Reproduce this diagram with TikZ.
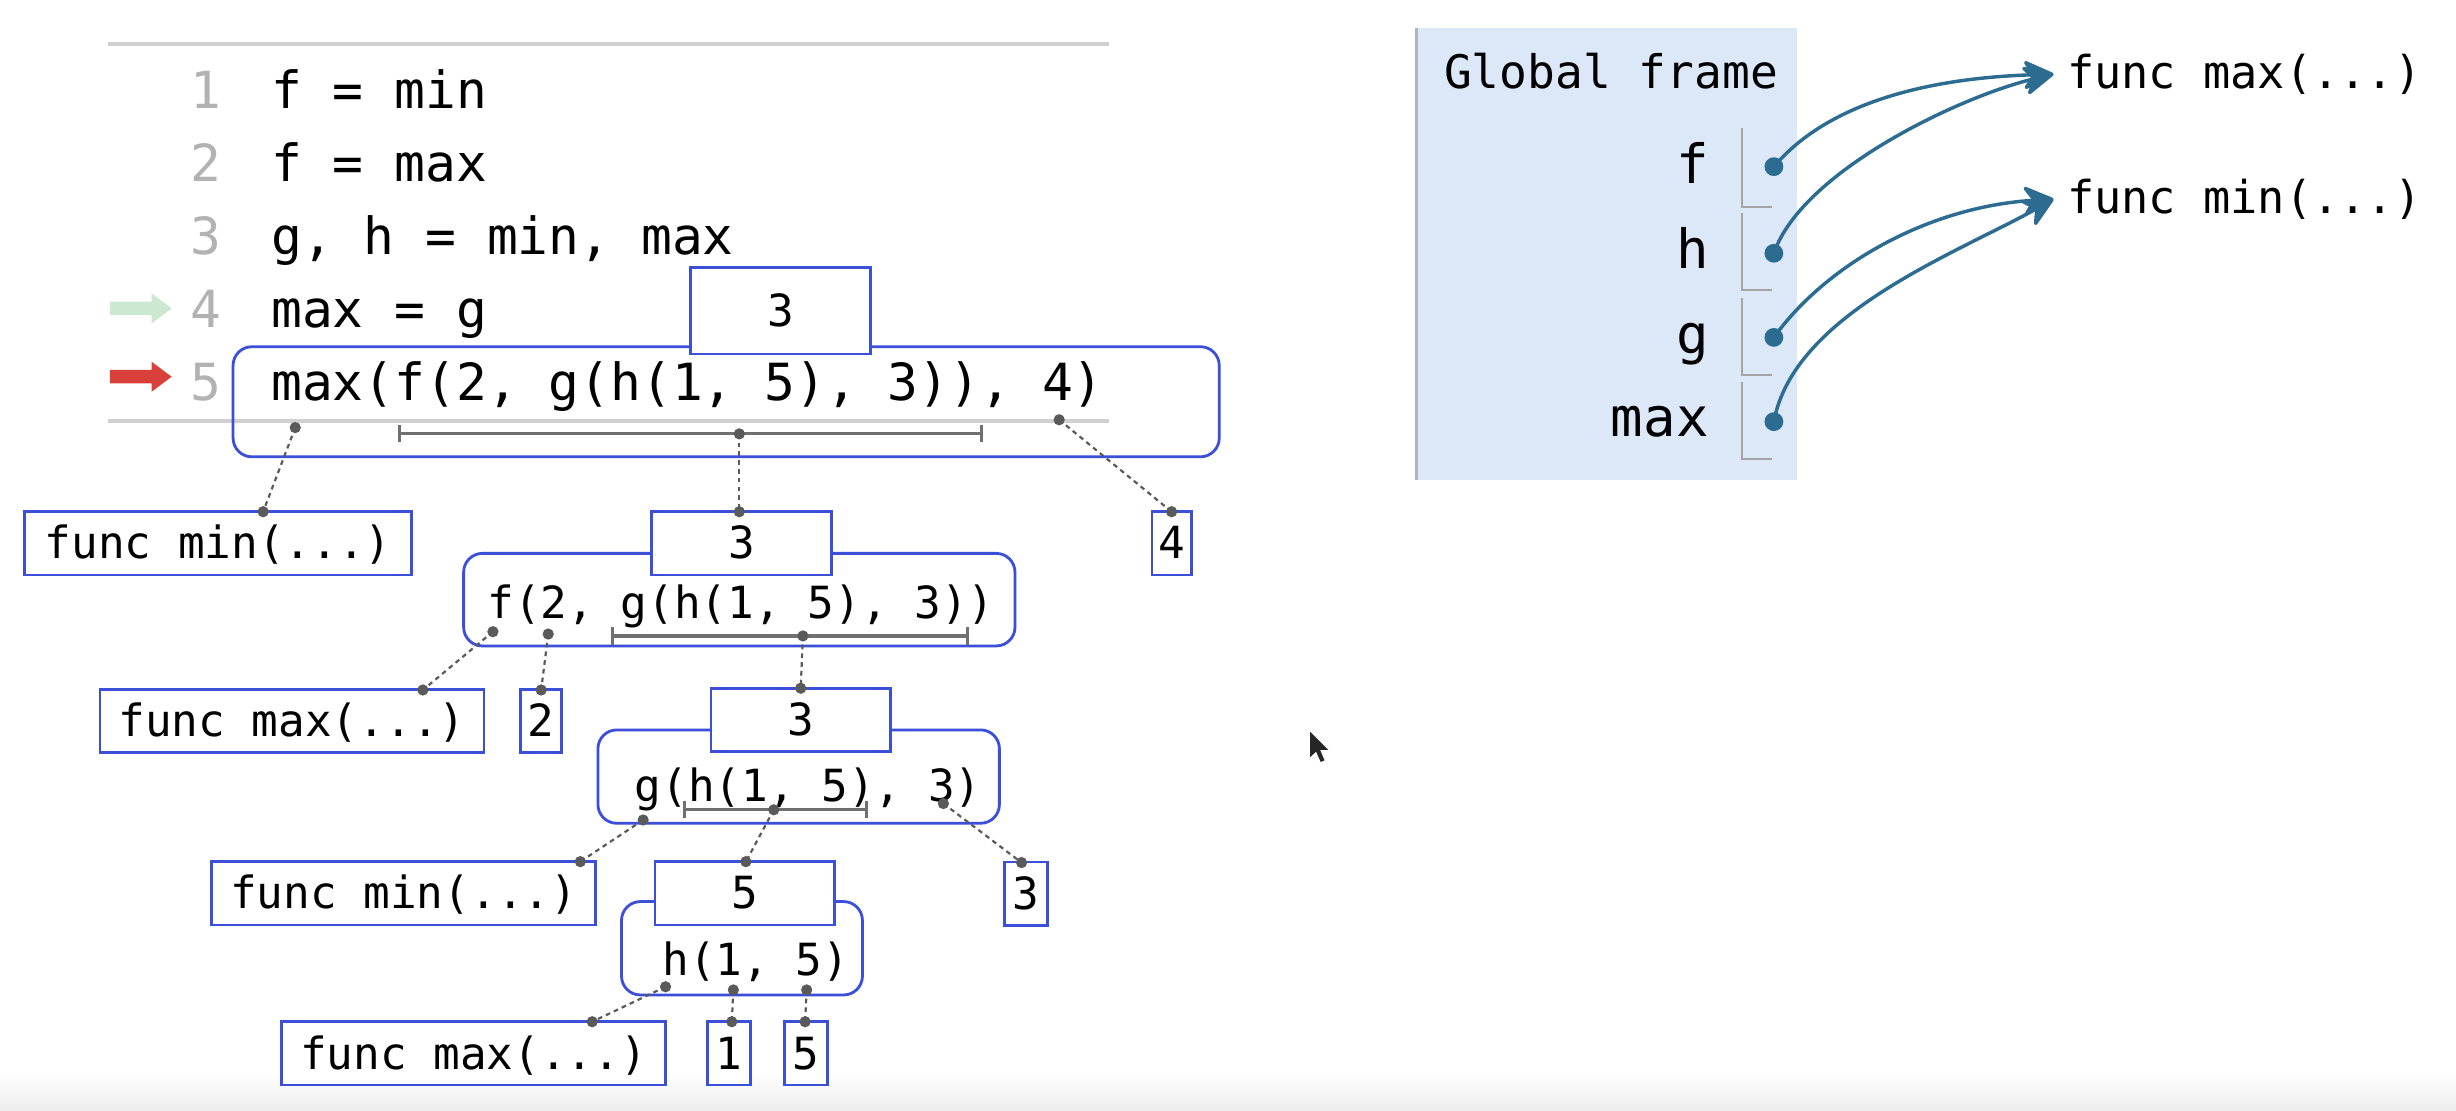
\documentclass[tikz,border=0pt]{standalone}
\usepackage{fontspec}
\usetikzlibrary{arrows.meta}
\newfontfamily\monofam{DejaVu Sans Mono}
\newcommand\codesz{\monofam\fontsize{32.7}{38}\selectfont}
\newcommand\treesz{\monofam\fontsize{28.3}{33}\selectfont}
\newcommand\framesz{\monofam\fontsize{29.5}{35}\selectfont}
\newcommand\varsz{\monofam\fontsize{34.5}{40}\selectfont}
\newcommand\heapsz{\monofam\fontsize{28.9}{34}\selectfont}

\definecolor{boxblue}{HTML}{3B4FD8}
\definecolor{linkgray}{HTML}{5A5A5A}
\definecolor{bargray}{HTML}{707070}
\definecolor{rulegray}{HTML}{D0D0D0}
\definecolor{numgray}{HTML}{B2B2B2}
\definecolor{framefill}{HTML}{DCE7F8}
\definecolor{frameedge}{HTML}{AEB4BC}
\definecolor{cellgray}{HTML}{A4A4A4}
\definecolor{ptrblue}{HTML}{2C6C91}
\definecolor{nextgreen}{HTML}{CDE8D0}
\definecolor{curred}{HTML}{D9403A}

% dashed evaluation link with a dot at each end
\newcommand\evlink[2]{%
  \draw[link] (#1) -- (#2);
  \fill[linkgray] (#1) circle (3.6pt) (#2) circle (3.6pt);}

\begin{document}
\begin{tikzpicture}[x=1pt,y=-1pt,
  rule/.style={draw=rulegray, line width=2pt},
  lnum/.style={anchor=base, inner sep=0pt, font=\codesz, text=numgray},
  code/.style={anchor=base west, inner sep=0pt, font=\codesz},
  callbox/.style={draw=boxblue, line width=1.8pt, rounded corners=12pt, inner sep=0pt},
  valbox/.style={draw=boxblue, line width=1.8pt, fill=white, inner sep=0pt,
    font=\treesz, text height=20pt, text depth=0pt, minimum height=40.4pt},
  expr/.style={anchor=base west, inner sep=0pt, font=\treesz},
  link/.style={draw=linkgray, line width=1.4pt, dash pattern=on 3pt off 2.6pt},
  span/.style={draw=bargray, line width=2pt, arrows={Bar[width=11pt]-Bar[width=11pt]}},
  varlbl/.style={anchor=base east, inner sep=0pt, font=\varsz},
  heaplbl/.style={anchor=base west, inner sep=0pt, font=\heapsz},
  ptrdot/.style={circle, fill=ptrblue, inner sep=0pt, minimum size=12pt},
  ptr/.style={draw=ptrblue, line width=2.2pt,
    -{Stealth[length=22pt,width=21pt,inset=7pt,round]}},
  cell/.style={draw=cellgray, line width=1.3pt}]

\useasboundingbox (0,0) rectangle (1568,709);
\fill[white] (0,0) rectangle (1568,709);
\shade[top color=white, bottom color=black!7] (0,684) rectangle (1568,709);

% ---------- code listing ----------
\draw[rule] (69,28.1) -- (708,28.1);
\draw[rule] (69,268.8) -- (708,268.8);

\node[lnum] (n1) at (131.5,69.2) {1};
\node[lnum] (n2) at (131.5,115.75) {2};
\node[lnum] (n3) at (131.5,162.3) {3};
\node[lnum] (n4) at (131.5,208.85) {4};
\node[lnum] (n5) at (131.5,255.4) {5};

\node[code] (c1) at (173,69.2) {f = min};
\node[code] (c2) at (173,115.75) {f = max};
\node[code] (c3) at (173,162.3) {g, h = min, max};
\node[code] (c4) at (173,208.85) {max = g};
\node[code] (c5) at (173,255.4) {max(f(2, g(h(1, 5), 3)), 4)};

% next-line and current-line markers
\fill[nextgreen] (70.2,192.6) -- (96.8,192.6) -- (96.8,187.3) -- (109.6,196.9)
  -- (96.8,206.5) -- (96.8,201.2) -- (70.2,201.2) -- cycle;
\fill[curred] (70.2,236.2) -- (96.8,236.2) -- (96.8,230.9) -- (109.6,240.5)
  -- (96.8,250.1) -- (96.8,244.8) -- (70.2,244.8) -- cycle;

% ---------- evaluation tree ----------
% level 0
\node[callbox, minimum width=629.6pt, minimum height=70.3pt] (r0) at (463.6,256.5) {};
\node[valbox, minimum width=115pt, minimum height=55pt] (v0) at (498.5,198.5) {3};
\draw[span] (254,277) -- (627.6,277);

% level 1
\node[valbox, minimum width=247pt] (fmin1) at (139.3,346.85) {func min(...)};
\node[valbox, minimum width=25pt] (four) at (748,346.85) {4};
\node[callbox, minimum width=352pt, minimum height=59.1pt] (r1) at (472,382.85) {};
\node[valbox, minimum width=115pt] (v1) at (473.5,346.85) {3};
\node[expr] (t1) at (311,395) {f(2, g(h(1, 5), 3))};
\draw[span] (390,406) -- (618.7,406);

\coordinate (a0) at (188.5,273);   \coordinate (b0) at (168,326.7);
\coordinate (a1) at (472,277);     \coordinate (b1) at (472,326.7);
\coordinate (a2) at (676.2,268);   \coordinate (b2) at (748,326.7);
\evlink{a0}{b0}
\evlink{a1}{b1}
\evlink{a2}{b2}

% level 2
\node[valbox, minimum width=245.2pt] (fmax2) at (186.4,460.2) {func max(...)};
\node[valbox, minimum width=26pt] (two) at (345.5,460.2) {2};
\node[callbox, minimum width=256.3pt, minimum height=59.6pt] (r2) at (509.9,495.8) {};
\node[valbox, minimum width=114.6pt] (v2) at (511.2,459.65) {3};
\node[expr] (t2) at (405,512) {g(h(1, 5), 3)};
\draw[span] (436,517) -- (554.2,517);

\coordinate (a3) at (314.7,403.3); \coordinate (b3) at (270,440.5);
\coordinate (a4) at (350,404.8);   \coordinate (b4) at (345.5,440.5);
\coordinate (a5) at (512.6,406);   \coordinate (b5) at (511.2,439.4);
\evlink{a3}{b3}
\evlink{a4}{b4}
\evlink{a5}{b5}

% level 3
\node[valbox, minimum width=245.2pt] (fmin3) at (257.7,570.3) {func min(...)};
\node[valbox, minimum width=27.7pt] (three3) at (655,570.5) {3};
\node[callbox, minimum width=153.8pt, minimum height=59.6pt] (r3) at (473.7,605.4) {};
\node[valbox, minimum width=114.6pt] (v3) at (475.5,570.3) {5};
\node[expr] (t3) at (422.7,622.5) {h(1, 5)};

\coordinate (a6) at (410.6,523.5); \coordinate (b6) at (370.5,550.1);
\coordinate (a7) at (494,517);     \coordinate (b7) at (476.2,550.1);
\coordinate (a8) at (602.3,513);   \coordinate (b8) at (652.2,550.7);
\evlink{a6}{b6}
\evlink{a7}{b7}
\evlink{a8}{b8}

% level 4
\node[valbox, minimum width=245.2pt] (fmax4) at (302.3,672.5) {func max(...)};
\node[valbox, minimum width=27.7pt] (one) at (465.5,672.5) {1};
\node[valbox, minimum width=27.6pt] (five) at (514.5,672.5) {5};

\coordinate (a9) at (424.9,630);   \coordinate (b9) at (378.1,652.3);
\coordinate (a10) at (468.2,632);  \coordinate (b10) at (467.2,652.3);
\coordinate (a11) at (515,632);    \coordinate (b11) at (514,652.3);
\evlink{a9}{b9}
\evlink{a10}{b10}
\evlink{a11}{b11}

% ---------- global frame ----------
\node[fill=framefill, inner sep=0pt, minimum width=242.9pt, minimum height=288.3pt]
  (gframe) at (1026.05,162.25) {};
\draw[frameedge, line width=2pt] (gframe.north west) -- (gframe.south west);
\node[anchor=base west, inner sep=0pt, font=\framesz] (gtitle) at (921.8,56.4) {Global frame};

\node[varlbl] (vf) at (1091,117) {f};
\node[varlbl] (vh) at (1091,171.3) {h};
\node[varlbl] (vg) at (1091,225.6) {g};
\node[varlbl] (vmax) at (1091,278.8) {max};

\draw[cell] (1112.2,82) -- (1112.2,132) -- (1131.2,132);
\draw[cell] (1112.2,136) -- (1112.2,185) -- (1131.2,185);
\draw[cell] (1112.2,190.5) -- (1112.2,239.4) -- (1131.2,239.4);
\draw[cell] (1112.2,243.7) -- (1112.2,293.3) -- (1131.2,293.3);

\node[ptrdot] (df) at (1132.5,106.4) {};
\node[ptrdot] (dh) at (1132.5,161.7) {};
\node[ptrdot] (dg) at (1132.5,215.4) {};
\node[ptrdot] (dmax) at (1132.5,269.2) {};

\node[heaplbl] (hmax) at (1319.5,56.4) {func max(...)};
\node[heaplbl] (hmin) at (1319.5,136.2) {func min(...)};

\draw[ptr] (df.center) .. controls (1165,68) and (1225,50) .. ([xshift=-8.5pt]hmax.west);
\draw[ptr] (dh.center) .. controls (1150,110) and (1250,62) .. ([xshift=-8.5pt]hmax.west);
\draw[ptr] (dg.center) .. controls (1165,170) and (1230,132) .. ([xshift=-8.5pt]hmin.west);
\draw[ptr] (dmax.center) .. controls (1145,200) and (1251,161) .. ([xshift=-8.5pt]hmin.west);

% ---------- mouse pointer ----------
\fill[black!85] (836.4,467.1) -- (836.4,483.5) -- (840.2,479.8) -- (843.2,486.5)
  -- (845.6,485.4) -- (842.8,478.8) -- (848,478.8) -- cycle;
\end{tikzpicture}
\end{document}
